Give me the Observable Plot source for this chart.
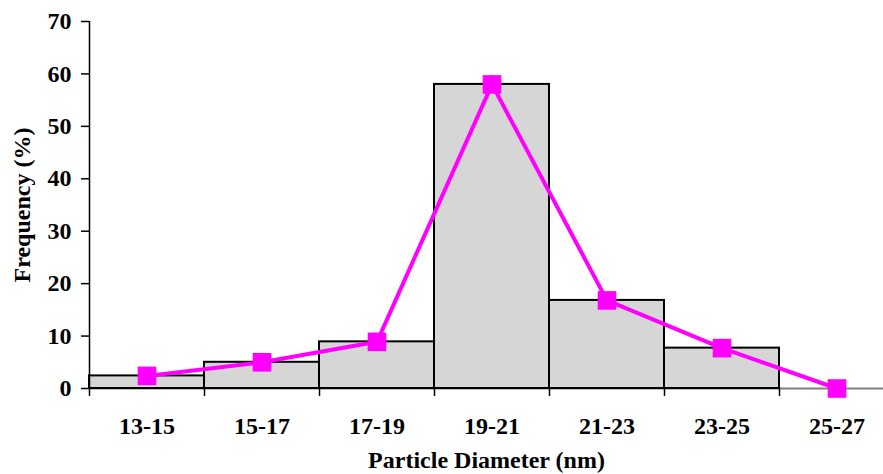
<!DOCTYPE html>
<html>
<head>
<meta charset="utf-8">
<script src="https://cdn.jsdelivr.net/npm/d3@7"></script>
<script src="https://cdn.jsdelivr.net/npm/@observablehq/plot@0.6"></script>
<style>
  html, body { margin: 0; padding: 0; background: #fff; }
  #chart svg { display: block; }
</style>
</head>
<body>
<div id="chart"></div>
<script>
const categories = ["13-15", "15-17", "17-19", "19-21", "21-23", "23-25", "25-27"];
const frequency = [2.4, 5.0, 8.9, 58.0, 16.8, 7.7, 0];
const yTicks = [0, 10, 20, 30, 40, 50, 60, 70];

const data = categories.map((c, i) => ({ i, category: c, value: frequency[i] }));
const font = "'Liberation Serif', 'Times New Roman', serif";

const chart = Plot.plot({
  width: 883,
  height: 474,
  marginLeft: 89,
  marginTop: 21,
  marginBottom: 86,
  marginRight: 0,
  style: { fontFamily: font, fontWeight: "bold", fontSize: "24px", background: "#fff", color: "#000" },
  x: { type: "linear", domain: [0, categories.length], range: [89, 894] },
  y: { domain: [0, 70] },
  marks: [
    Plot.ruleY([0], { stroke: "#808080", strokeWidth: 2 }),
    Plot.rectY(data, { x1: "i", x2: d => d.i + 1, y: "value", fill: "#d6d6d6", stroke: "#000", strokeWidth: 2 }),
    Plot.ruleX([0], { y1: 0, y2: 70, stroke: "#000", strokeWidth: 1.5 }),
    Plot.axisY({ ticks: yTicks, tickSize: 8, tickPadding: 10, fontSize: 24, fontWeight: "bold", label: null, strokeWidth: 1.5 }),
    Plot.axisX({ ticks: d3.range(0, categories.length), tickSize: 8, tickFormat: () => "", label: null, strokeWidth: 1.5 }),
    Plot.axisX({ ticks: categories.map((c, i) => i + 0.5), tickSize: 0, tickPadding: 28, tickFormat: v => categories[Math.floor(v)], fontSize: 24, fontWeight: "bold", label: null }),
    Plot.line(data, { x: d => d.i + 0.5, y: "value", stroke: "#ff00ff", strokeWidth: 4 }),
    Plot.dot(data, { x: d => d.i + 0.5, y: "value", symbol: "square", r: 10.5, fill: "#ff00ff", stroke: "none" }),
    Plot.text(["Frequency (%)"], { frameAnchor: "left", dx: -67, rotate: -90, fontSize: 24, fontWeight: "bold", textAnchor: "middle", lineAnchor: "middle" }),
    Plot.text(["Particle Diameter (nm)"], { frameAnchor: "bottom", dy: 72, fontSize: 24, fontWeight: "bold", textAnchor: "middle", lineAnchor: "middle" })
  ]
});
document.getElementById("chart").appendChild(chart);
</script>
</body>
</html>
